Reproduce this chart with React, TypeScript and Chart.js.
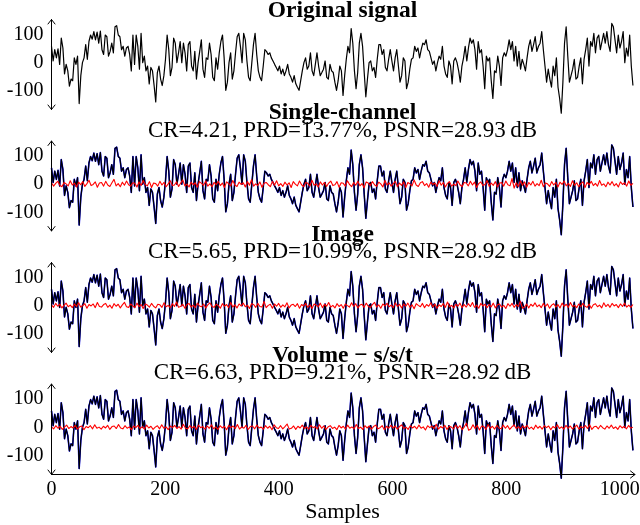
import React, { useEffect, useRef } from "react";
import { Chart, registerables } from "chart.js";

Chart.register(...registerables);

// ---- data ----
const SIGNAL = [
  58, 6, 46, 17, 49, -6, 87, 52, -40, -6, -29, -83, -58, -64, 17, -6, 23, -145, -46, 0,
  17, 64, 12, 75, 98, 83, 110, 81, 108, 69, 112, 46, 29, 98, 92, 23, 40, 69, 35, 127,
  131, 98, 92, 46, 58, 23, 52, 58, 29, -29, 98, -6, 98, 58, -23, 104, 0, 23, -29, -12,
  -75, -17, -29, -81, -139, -35, -12, -58, -81, -46, 12, 98, 46, -46, -17, 87, 69, 0, 35, 75,
  0, 69, 35, -29, 64, 75, -12, -29, 40, -58, 0, 40, 81, -23, -52, 17, 12, 69, 29, -52,
  -64, 17, -23, 35, 75, 98, 17, -98, -69, 0, 35, -58, -29, 35, 92, 104, 58, 0, 104, 81,
  6, -52, -64, 0, 64, 104, 29, -29, -52, -64, -12, 46, 40, 29, 35, 17, 6, -6, -17, -29,
  -12, -40, -23, -46, -29, -6, -40, -52, -69, -46, -75, -87, -98, -64, -29, 0, 17, -23, -12, 35,
  -29, -46, -6, 35, -12, -46, -35, -23, 6, -52, -58, -6, -29, -35, -69, -98, -64, -12, -29, -116,
  -46, 12, 58, 35, 121, 69, -29, -92, -35, 69, 104, 58, -35, -121, -58, 0, 6, -29, -17, -52,
  12, 64, 64, 29, 46, -17, -29, 12, 46, 6, -29, 17, 46, -12, -69, -46, 17, 6, -92, -69,
  -23, 12, 17, 58, 40, 52, 17, 46, 69, 64, 81, 46, 40, 17, -6, 6, -29, 0, 23, 12,
  58, -12, -40, -52, 6, -12, -75, 6, 17, 0, -29, -69, -12, 17, 58, 6, 52, 87, 69, 81,
  46, -23, 75, 35, 46, -12, -92, 23, 6, 17, -64, -127, -29, -35, 23, -12, -81, 17, 35, 23,
  46, 81, 46, 75, 6, 58, -12, 40, -23, 12, -6, -29, 17, 58, 81, 40, 64, 92, 40, 58,
  69, 110, 46, -12, -69, -23, -58, -87, -12, -46, 17, -87, -127, -179, -69, 69, 127, 23, -69, -46,
  -23, 12, -58, -52, -12, 17, -75, 12, 46, 87, -12, 75, 58, 104, 35, 87, 98, 46, 75, 104,
  69, 110, 64, 40, 139, 127, 81, 35, 98, 52, 75, 110, 0, 52, 23, 98, -12, -81,
];

const ERR_SINGLE = [
  5, -7, 3, 10, -4, -9, 6, 1, -6, 12, -3, 4, -10, 7, -2, 9, -8, 2, 14, -5, -1, 8, -11, 4, 6, -7, 10, -3, -8, 5, 17, -6, 2, -9, 7, -4, 11, -2, -7, 5,
  3, -10, 8, -5, 13, -1, -6, 9, -12, 4, 2, -7, 10, -3, 6, -9, 1, 12, -5, -3, 8, -8, 4, 15, -6, 0, -10, 7, -2, 5, -11, 9, 3, -4, 11, -7, 1, -9, 6, -2,
  10, -5, 4, -12, 8, 2, -6, 13, -3, -8, 7, -1, 5, -10, 9, -4, 16, -7, 1, -5, 8, -11, 3, 6, -2, -9, 10, -4, 12, -6, 2, -8, 7, -3, 5, -12, 9, 0, -6, 11,
  -2, -9, 6, 3, -7, 14, -4, 1, -10, 8, -3, 6, -8, 4, 11, -5, -2, 9, -11, 5, 3, -7, 12, -1, -9, 6, -4, 10, -6, 2, -13, 8, 4, -5, 9, -2, -8, 7, 1, -10,
  13, -3, 5, -7, 2, 10, -9, 4, -4, 8, -12, 6, 1, -6, 15, -3, -8, 5, 9, -5, 2, -11, 7, -1, 4, -8, 12, -4, 6, -10, 3, 9, -7, 0, -5, 11, -2, -9, 6, 4,
  -6, 10, -3, 7, -12, 2, 8, -5, -1, 13, -8, 4, -4, 9, -10, 3, 6, -7, 11, -2, -6, 20, -14, 5, -9, 12, -4, 8, -11, 6, -3, 10, -7, 2, -5, 14, -9, 4, 1, -8,
  9, -3, 6, -10, 7, -1, 11, -6, 3, -8, 12, -4, 5, -9, 2, 8, -12, 6, -2, 10, -5, 3, -7, 13, -4, 1, -9, 7, -3, 9, -6, 2, -10, 8, -1, 5, -7, 11, -4, 3,
];

const ERR_IMAGE = [
  3, -6, 8, -2, 5, -8, 1, 9, -4, 2, -7, 6, -3, 10, -5, 0, 7, -9, 4, -1, 6, -7, 11, -3, -5, 4, 8, -6, 2, -9, 7, -2, 5, -8, 3, 12, -4, -6, 6, -1,
  -7, 9, -3, 4, -10, 6, 2, -5, 8, -2, -8, 5, 3, -6, 10, -4, 1, -7, 7, -3, 13, -6, -2, 5, -9, 4, 8, -5, 2, -7, 9, -1, -4, 6, -8, 3, 10, -3, -6, 5,
  1, -9, 7, -2, 4, -7, 11, -5, 3, -8, 6, -1, 9, -4, 2, -10, 7, 4, -6, 8, -3, -5, 15, -7, 1, 5, -9, 6, -2, 8, -6, 3, -4, 10, -8, 2, 5, -3, 7, -9,
  4, -1, 8, -6, 3, -10, 6, 2, -4, 9, -7, 5, -2, 11, -5, 1, -8, 7, -3, 4, -9, 6, 0, -5, 10, -3, 7, -8, 2, 5, -6, 9, -2, -7, 4, 12, -5, 3, -9, 6,
  -1, 8, -4, 2, -7, 10, -3, 5, -8, 6, -2, 9, -6, 3, -11, 7, 1, -4, 8, -7, 4, -2, 10, -5, 6, -9, 3, -3, 7, -6, 13, -4, 1, -8, 5, -2, 9, -7, 4, -5,
  7, -3, 11, -6, 2, -9, 8, -1, 5, -7, 4, -4, 9, -8, 3, 6, -5, 1, -10, 7, -2, 8, -6, 4, -3, 16, -9, -5, 6, -8, 5, -2, 10, -4, 3, -7, 8, -3, 6, -9,
  2, 7, -5, 4, -8, 9, -2, 5, -6, 11, -3, 1, -7, 6, -4, 8, -2, -6, 5, -9, 3, 7, -4, 2, -8, 10, -3, 5, -6, 8, -1, 4, -7, 6, -3, 9, -5, 2, -6, 4,
];

const ERR_VOLUME = [
  2, -5, 6, -3, 4, -7, 1, 8, -4, 3, -2, 7, -6, 2, 5, -8, 3, -1, 6, -5, 9, -3, 1, -6, 4, -2, 7, -7, 3, 5, -4, 10, -2, -5, 6, -3, 2, -8, 5, -1,
  7, -4, 3, -6, 8, -2, 4, -7, 1, 6, -5, 9, -3, 2, -8, 5, -1, 7, -4, 3, -6, 11, -3, -5, 6, -2, 4, -7, 8, -1, 3, -6, 5, -3, 9, -5, 2, -7, 6, -2,
  4, -8, 7, -1, 5, -4, 10, -6, 2, -3, 7, -7, 3, 5, -5, 8, -2, 1, -6, 6, -3, 4, -8, 9, -1, -4, 6, -5, 3, 12, -6, -3, 5, -7, 4, -2, 8, -4, 2, -6,
  7, -1, 3, -5, 9, -3, 5, -7, 2, 6, -4, 1, -8, 7, -2, 4, -6, 8, -3, 2, -5, 10, -4, 1, -7, 6, -2, 5, -6, 3, 8, -5, -1, 6, -8, 4, -3, 7, -2, 5,
  -6, 3, 9, -4, 1, -7, 6, -2, 4, -5, 8, -3, 2, -9, 6, -1, 5, -4, 11, -6, 3, -2, 7, -7, 4, 1, -5, 8, -3, 6, -8, 2, 15, -10, -6, 9, -4, 7, -9, 5,
  3, -7, 10, -3, 4, -6, 7, -2, -5, 8, -3, 6, -7, 2, 9, -4, 3, -6, 5, -2, 7, -5, 1, -7, 8, -3, 4, -6, 6, -1, 5, -8, 3, -2, 9, -4, 2, -6, 7, -3,
  5, -5, 1, 8, -6, 3, -2, 6, -4, 9, -7, 2, 4, -5, 7, -1, -6, 5, -3, 8, -4, 2, -7, 6, -2, 4, -5, 7, -3, 1,
];

const X_TICKS = [0, 200, 400, 600, 800, 1000];
const Y_TICKS = [-100, 0, 100];
const LAST_SAMPLE = 1023;
const X_MAX = 1024;
const Y_MIN = -166;
const Y_MAX = 153;

const TITLES = ["Original signal", "Single-channel", "Image", "Volume \u2212 s/s/t"];
const SUBTITLES = [
  "",
  "CR=4.21, PRD=13.77%, PSNR=28.93\u2009dB",
  "CR=5.65, PRD=10.99%, PSNR=28.92\u2009dB",
  "CR=6.63, PRD=9.21%, PSNR=28.92\u2009dB",
];
const ERRORS = [null, ERR_SINGLE, ERR_IMAGE, ERR_VOLUME];

// ---- layout ----
const W = 640;
const H = 525;
const FONT = "'Liberation Serif', 'Times New Roman', serif";
const LAYOUT = [
  { top: 19.5, bottom: 109.5, titleY: 17, subY: 0 },
  { top: 141, bottom: 231, titleY: 119, subY: 136.5 },
  { top: 262.5, bottom: 352.5, titleY: 240.5, subY: 258 },
  { top: 384, bottom: 474.5, titleY: 361.5, subY: 379 },
];

function pts(values: number[]) {
  const step = LAST_SAMPLE / (values.length - 1);
  return values.map((v, i) => ({ x: i * step, y: v }));
}

const decor = {
  id: "decor",
  afterDraw(chart: any, _args: any, opts: any) {
    const { ctx, chartArea } = chart;
    const x0 = chartArea.left;
    const top = chartArea.top;
    const bot = chartArea.bottom;
    ctx.save();
    ctx.strokeStyle = "#000";
    ctx.lineWidth = 1;
    ctx.lineCap = "round";
    ctx.lineJoin = "round";
    ctx.beginPath();
    ctx.moveTo(x0, top);
    ctx.lineTo(x0, bot);
    ctx.moveTo(x0 - 3.5, top + 4.5);
    ctx.lineTo(x0, top);
    ctx.lineTo(x0 + 3.5, top + 4.5);
    ctx.moveTo(x0 - 3.5, bot - 4.5);
    ctx.lineTo(x0, bot);
    ctx.lineTo(x0 + 3.5, bot - 4.5);
    ctx.stroke();
    if (opts.xAxis) {
      const xe = 635;
      ctx.beginPath();
      ctx.moveTo(x0, bot);
      ctx.lineTo(xe, bot);
      ctx.moveTo(xe - 4.5, bot - 3.5);
      ctx.lineTo(xe, bot);
      ctx.lineTo(xe - 4.5, bot + 3.5);
      ctx.stroke();
    }
    const cx = (chartArea.left + chartArea.right) / 2;
    ctx.fillStyle = "#000";
    ctx.textAlign = "center";
    ctx.textBaseline = "alphabetic";
    ctx.font = `bold 23.5px ${FONT}`;
    ctx.fillText(opts.title, cx, opts.titleY);
    if (opts.subtitle) {
      ctx.font = `23px ${FONT}`;
      ctx.fillText(opts.subtitle, cx, opts.subY);
    }
    ctx.restore();
  },
};

function buildConfig(idx: number): any {
  const lay = LAYOUT[idx];
  const err = ERRORS[idx];
  const isLast = idx === LAYOUT.length - 1;
  const datasets: any[] = [];
  if (err) {
    datasets.push({ label: "error", data: pts(err), borderColor: "#ff0000", borderWidth: 1.1 });
  }
  datasets.push({ label: "original", data: pts(SIGNAL), borderColor: "#000000", borderWidth: 1.2 });
  if (err) {
    datasets.push({ label: "reconstructed", data: pts(SIGNAL), borderColor: "#0000ff", borderWidth: 1.6 });
  }
  datasets.forEach((d) => {
    d.pointRadius = 0;
    d.tension = 0;
    d.fill = false;
    d.clip = false;
    d.borderJoinStyle = "round";
  });

  return {
    type: "line",
    data: { datasets },
    options: {
      animation: false,
      responsive: false,
      events: [],
      layout: {
        padding: {
          left: 0,
          right: W - 633.5,
          top: lay.top,
          bottom: isLast ? 0 : H - lay.bottom,
        },
      },
      plugins: {
        legend: { display: false },
        tooltip: { enabled: false },
        title: { display: false },
        decor: {
          title: TITLES[idx],
          subtitle: SUBTITLES[idx],
          titleY: lay.titleY,
          subY: lay.subY,
          xAxis: isLast,
        },
      },
      scales: {
        x: {
          type: "linear",
          min: 0,
          max: X_MAX,
          display: isLast,
          grid: { display: false, drawTicks: false },
          border: { display: false },
          afterBuildTicks: (s: any) => {
            s.ticks = X_TICKS.map((v) => ({ value: v }));
          },
          afterFit: (s: any) => {
            if (isLast) s.height = H - lay.bottom;
            s.paddingLeft = 0;
            s.paddingRight = 0;
          },
          ticks: {
            color: "#000",
            font: { family: FONT, size: 20 },
            padding: 3,
            maxRotation: 0,
            autoSkip: false,
            callback: (v: any) => String(v),
          },
          title: {
            display: isLast,
            text: "Samples",
            color: "#000",
            font: { family: FONT, size: 22 },
            padding: { top: 0, bottom: 0 },
          },
        },
        y: {
          type: "linear",
          min: Y_MIN,
          max: Y_MAX,
          grid: { display: false, drawTicks: false },
          border: { display: false },
          afterBuildTicks: (s: any) => {
            s.ticks = Y_TICKS.map((v) => ({ value: v }));
          },
          afterFit: (s: any) => {
            s.width = 51.5;
            s.paddingTop = 0;
            s.paddingBottom = 0;
          },
          ticks: {
            color: "#000",
            font: { family: FONT, size: 20 },
            padding: 8,
            callback: (v: any) => String(v),
          },
        },
      },
    },
    plugins: [decor],
  };
}

export default function App() {
  const r0 = useRef<HTMLCanvasElement>(null);
  const r1 = useRef<HTMLCanvasElement>(null);
  const r2 = useRef<HTMLCanvasElement>(null);
  const r3 = useRef<HTMLCanvasElement>(null);
  const refs = [r0, r1, r2, r3];

  useEffect(() => {
    Chart.defaults.font.family = FONT;
    Chart.defaults.color = "#000";
    const charts = refs.map((r, i) => new Chart(r.current as HTMLCanvasElement, buildConfig(i)));
    return () => charts.forEach((c) => c.destroy());
  }, []);

  return (
    <div style={{ position: "absolute", left: 0, top: 0, width: W, height: H, background: "#fff" }}>
      {refs.map((r, i) => (
        <canvas
          key={i}
          ref={r}
          width={W}
          height={H}
          style={{ position: "absolute", left: 0, top: 0, width: W, height: H }}
        />
      ))}
    </div>
  );
}
